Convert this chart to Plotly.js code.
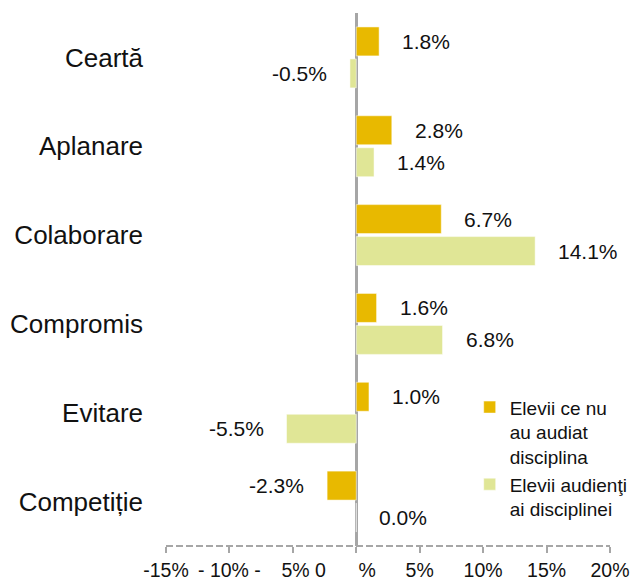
<!DOCTYPE html>
<html>
<head>
<meta charset="utf-8">
<script src="https://cdn.plot.ly/plotly-3.0.1.min.js"></script>
<style>
  html, body { margin: 0; padding: 0; background: #ffffff; }
  #chart { width: 644px; height: 581px; }
</style>
</head>
<body>
<div id="chart"></div>
<script>
const categories = ["Ceartă", "Aplanare", "Colaborare", "Compromis", "Evitare", "Competiție"];
const seriesNames = ["Elevii ce nu<br>au audiat<br>disciplina", "Elevii audienţi<br>ai disciplinei"];
const notAttended = [1.8, 2.8, 6.7, 1.6, 1.0, -2.3];
const attended = [-0.5, 1.4, 14.1, 6.8, -5.5, 0.0];
const tickVals = [-15, -10, -5, 0, 5, 10, 15, 20];
const tickText = ["-15%", "- 10% -", "\u00a0\u00a0\u00a0\u00a05% 0", "\u00a0\u00a0\u00a0\u00a0%", "5%", "10%", "15%", "20%"];

const FONT = "'Liberation Sans', Arial, sans-serif";
const colors = ["#E8B900", "#E0E696"];

const traces = [
  { type: "bar", orientation: "h", name: seriesNames[0], x: notAttended, y: categories,
    marker: { color: colors[0], line: { color: "#ffffff", width: 0.5 } }, hoverinfo: "skip" },
  { type: "bar", orientation: "h", name: seriesNames[1], x: attended, y: categories,
    marker: { color: colors[1], line: { color: "#ffffff", width: 0.5 } }, hoverinfo: "skip" }
];

const annotations = [];
[notAttended, attended].forEach((vals, si) => {
  vals.forEach((v, i) => {
    const neg = v < 0;
    annotations.push({
      x: v, y: categories[i], xref: "x", yref: "y",
      text: v.toFixed(1) + "%", showarrow: false,
      xanchor: neg ? "right" : "left",
      xshift: neg ? -21 : 21,
      yshift: si === 0 ? 16 : -16,
      font: { family: FONT, size: 21, color: "#111111" }
    });
  });
});

const layout = {
  width: 644, height: 581,
  margin: { l: 166, r: 34, t: 13, b: 35, autoexpand: false },
  paper_bgcolor: "#ffffff", plot_bgcolor: "#ffffff",
  barmode: "group", bargap: 0.28, bargroupgap: 0.094,
  showlegend: true,
  legend: {
    x: 0.684, xanchor: "left", y: 0.296, yanchor: "top",
    valign: "top", font: { family: FONT, size: 19, color: "#111111" },
    bgcolor: "rgba(0,0,0,0)", tracegroupgap: 0, itemclick: false
  },
  xaxis: {
    range: [-15, 20], tickvals: tickVals, ticktext: tickText, tickangle: 0,
    showgrid: false, zeroline: true, zerolinecolor: "#A6A6A6", zerolinewidth: 2.5,
    showline: false, ticks: "outside", ticklen: 6, tickwidth: 2, tickcolor: "#A6A6A6",
    tickfont: { family: FONT, size: 19.5, color: "#111111" }, ticklabelstandoff: 1,
    automargin: false, fixedrange: true
  },
  yaxis: {
    type: "category", autorange: "reversed", showgrid: false, zeroline: false,
    showline: false, ticks: "", ticklabelstandoff: 22,
    tickfont: { family: FONT, size: 26, color: "#111111" },
    automargin: false, fixedrange: true
  },
  shapes: [
    { type: "line", xref: "paper", yref: "paper", x0: 0, x1: 1, y0: 0, y1: 0,
      line: { color: "#A6A6A6", width: 2, dash: "7px,3px" } }
  ],
  annotations: annotations
};

Plotly.newPlot("chart", traces, layout, { displayModeBar: false, staticPlot: true });
</script>
</body>
</html>
